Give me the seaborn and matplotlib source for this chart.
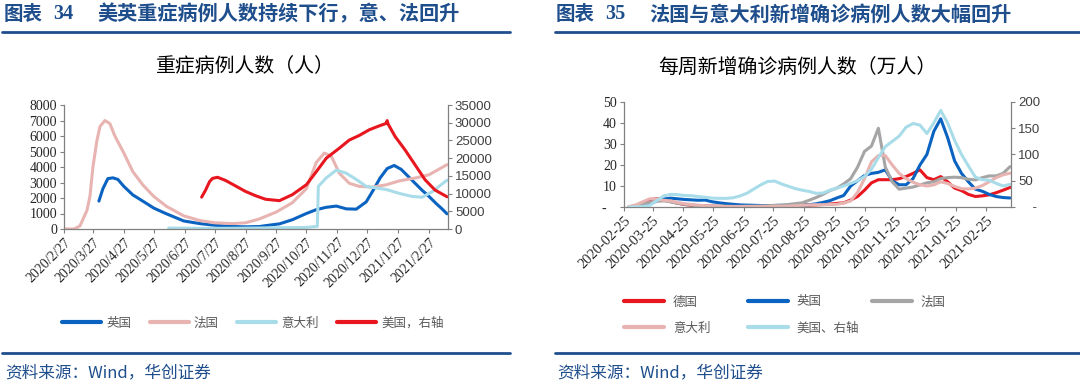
import pandas as pd
import seaborn as sns
import matplotlib.pyplot as plt
from matplotlib.lines import Line2D
from matplotlib.ticker import FuncFormatter

# ---------------- left chart: ICU patients (persons) ----------------
uk_dates = ['2020-04-02', '2020-04-06', '2020-04-11', '2020-04-16', '2020-04-21', '2020-04-27',
            '2020-05-06', '2020-05-16', '2020-05-27', '2020-06-08', '2020-06-26', '2020-07-12',
            '2020-07-27', '2020-08-14', '2020-08-27', '2020-09-10', '2020-09-20', '2020-09-30',
            '2020-10-13', '2020-10-27', '2020-11-06', '2020-11-16', '2020-11-26', '2020-12-06',
            '2020-12-16', '2020-12-26', '2021-01-02', '2021-01-09', '2021-01-16', '2021-01-23',
            '2021-01-30', '2021-02-06', '2021-02-13', '2021-02-20', '2021-02-27', '2021-03-06',
            '2021-03-12', '2021-03-17']
uk_icu = [1800, 2600, 3250, 3300, 3200, 2750,
          2200, 1800, 1350, 1000, 520, 350,
          240, 160, 140, 160, 250, 330,
          600, 1000, 1250, 1400, 1480, 1300,
          1280, 1750, 2500, 3300, 3900, 4100,
          3850, 3400, 2950, 2500, 2100, 1650,
          1300, 980]

fr_dates = ['2020-02-27', '2020-03-08', '2020-03-14', '2020-03-21', '2020-03-24', '2020-03-27',
            '2020-03-31', '2020-04-03', '2020-04-08', '2020-04-13', '2020-04-18', '2020-04-27',
            '2020-05-06', '2020-05-16', '2020-05-27', '2020-06-09', '2020-06-26', '2020-07-12',
            '2020-07-27', '2020-08-14', '2020-08-27', '2020-09-10', '2020-09-27', '2020-10-13',
            '2020-10-27', '2020-11-06', '2020-11-14', '2020-11-21', '2020-11-29', '2020-12-09',
            '2020-12-19', '2021-01-01', '2021-01-15', '2021-01-28', '2021-02-14', '2021-02-27',
            '2021-03-17']
fr_icu = [0, 0, 200, 1200, 2100, 4000,
          5700, 6600, 7000, 6800, 6000, 4900,
          3700, 2850, 2100, 1450, 850, 550,
          400, 350, 400, 650, 1100, 1700,
          2600, 4300, 4900, 4700, 3600, 2950,
          2750, 2700, 2850, 3100, 3300, 3500,
          4150]

it_dates = ['2020-06-11', '2020-07-15', '2020-08-20', '2020-09-25', '2020-10-27', '2020-11-07',
            '2020-11-08', '2020-11-16', '2020-11-26', '2020-12-06', '2020-12-16', '2020-12-26',
            '2021-01-05', '2021-01-15', '2021-01-28', '2021-02-10', '2021-02-20', '2021-03-02',
            '2021-03-17']
it_icu = [60, 40, 50, 80, 100, 170,
          2750, 3300, 3800, 3600, 3200, 2750,
          2650, 2550, 2300, 2100, 2050, 2400,
          3150]

us_dates = ['2020-07-14', '2020-07-18', '2020-07-22', '2020-07-25', '2020-07-30', '2020-08-07',
            '2020-08-18', '2020-08-27', '2020-09-06', '2020-09-16', '2020-09-30', '2020-10-13',
            '2020-10-27', '2020-11-06', '2020-11-16', '2020-11-29', '2020-12-09', '2020-12-19',
            '2020-12-29', '2021-01-08', '2021-01-15', '2021-01-16', '2021-01-17', '2021-01-24',
            '2021-02-03', '2021-02-13', '2021-02-23', '2021-03-05', '2021-03-17']
us_icu = [9000, 11000, 13400, 14300, 14600, 13700,
          12000, 10600, 9400, 8400, 8000, 9700,
          12500, 16200, 20000, 22800, 25100, 26400,
          28000, 29100, 29800, 30600, 29600, 26100,
          22300, 18100, 13900, 11000, 9100]

icu_ticks = ['2020-02-27', '2020-03-27', '2020-04-27', '2020-05-27', '2020-06-27', '2020-07-27',
             '2020-08-27', '2020-09-27', '2020-10-27', '2020-11-27', '2020-12-27', '2021-01-27',
             '2021-02-27']

# ---------------- right chart: weekly new cases (10k persons) ----------------
week_dates = pd.date_range('2020-03-01', '2021-03-21', freq='7D')
de_new = [0.1, 0.6, 2.0, 3.5, 3.9, 3.6, 2.6, 1.8, 1.2, 0.8, 0.6, 0.5, 0.4, 0.3, 0.3, 0.3,
          0.4, 0.4, 0.3, 0.3, 0.4, 0.5, 0.6, 0.7, 0.9, 1.0, 0.9, 1.0, 1.2, 1.4, 1.7, 2.0,
          3.3, 5.0, 8.0, 11.5, 13.0, 13.0, 13.0, 13.5, 14.5, 16.0, 17.7, 14.0, 13.0, 14.5,
          12.0, 9.0, 7.8, 6.0, 5.0, 5.3, 5.8, 6.8, 8.0, 9.3]
uk_new = [0.0, 0.1, 0.6, 1.5, 2.8, 3.8, 4.2, 3.9, 3.6, 3.4, 3.2, 3.3, 2.5, 2.0, 1.6, 1.3,
          1.0, 0.9, 0.8, 0.7, 0.7, 0.7, 0.8, 0.8, 0.9, 1.0, 1.1, 1.5, 2.2, 3.0, 4.3, 5.5,
          10.0, 12.5, 15.0, 16.0, 16.5, 17.7, 12.5, 10.6, 10.6, 13.5, 20.0, 25.0, 36.0, 42.0,
          33.0, 22.0, 16.0, 12.0, 8.5, 7.5, 6.0, 5.0, 4.5, 4.3]
fr_new = [0.1, 0.4, 1.2, 2.2, 2.8, 2.9, 2.5, 1.8, 1.3, 0.9, 0.6, 0.5, 0.4, 0.4, 0.4, 0.3,
          0.3, 0.4, 0.4, 0.5, 0.6, 0.8, 0.9, 1.2, 1.6, 2.0, 3.2, 4.5, 6.0, 7.8, 9.0, 11.0,
          13.5, 19.0, 26.5, 29.0, 37.5, 19.0, 12.0, 8.5, 9.0, 9.5, 10.5, 11.5, 12.0, 13.5,
          14.0, 14.2, 14.0, 13.2, 12.9, 14.0, 14.8, 14.8, 16.0, 19.2]
it_new = [0.2, 1.0, 2.5, 3.9, 3.8, 3.2, 2.9, 2.2, 1.6, 1.2, 0.9, 0.6, 0.5, 0.4, 0.2, 0.2,
          0.2, 0.2, 0.2, 0.2, 0.2, 0.3, 0.3, 0.4, 0.6, 0.8, 1.0, 1.1, 1.1, 1.2, 1.3, 1.9,
          2.9, 7.0, 13.5, 21.5, 24.5, 24.5, 20.0, 16.0, 13.5, 11.8, 10.6, 10.0, 10.5, 12.0,
          11.2, 9.8, 8.7, 8.6, 9.0, 10.2, 12.0, 14.0, 15.3, 16.1]
us_new = [0.0, 0.1, 0.8, 3.0, 12.0, 21.0, 24.0, 23.5, 22.0, 21.5, 20.0, 18.5, 17.0, 16.5, 16.4, 17.5,
          21.0, 26.0, 34.0, 42.0, 48.5, 49.5, 44.0, 39.5, 35.0, 32.0, 29.7, 26.0, 26.5, 32.0, 36.0, 40.0,
          45.0, 50.0, 58.0, 72.0, 94.0, 115.0, 125.0, 135.0, 152.0, 159.0, 156.0, 140.0, 160.0, 184.0,
          160.0, 127.0, 100.0, 78.0, 57.0, 52.0, 51.0, 45.0, 40.0, 43.0]

case_ticks = ['2020-02-25', '2020-03-25', '2020-04-25', '2020-05-25', '2020-06-25', '2020-07-25',
              '2020-08-25', '2020-09-25', '2020-10-25', '2020-11-25', '2020-12-25', '2021-01-25',
              '2021-02-25']

RED = '#E8161E'
BLUE = '#0A63C0'
PINK = '#E8B4B2'
LBLUE = '#A9DCE9'
GREY = '#A5A5A5'
NAVY = '#1F4E8C'
SPINE = '#808080'

sns.set_theme(style='ticks')
plt.rcParams['font.family'] = ['Noto Sans CJK SC', 'DejaVu Sans']

W, H = 1080, 386
fig = plt.figure(figsize=(W / 100, H / 100), dpi=100)


def box(x0, x1, ytop, ybot):
    return [x0 / W, 1 - ybot / H, (x1 - x0) / W, (ybot - ytop) / H]


def style_axes(ax, axr):
    for a in (ax, axr):
        a.spines['top'].set_visible(False)
        for s in a.spines.values():
            s.set_color(SPINE)
            s.set_linewidth(0.9)
        a.tick_params(direction='out', length=3, width=0.8, color=SPINE, pad=2)
        a.set_xlabel('')
        a.set_ylabel('')
    axr.spines['left'].set_visible(False)
    axr.spines['bottom'].set_visible(False)
    ax.spines['right'].set_visible(False)


def header(x, num, text, rule_x0, rule_x1):
    fig.text(x / W, 1 - 14 / H, '图表', color=NAVY, fontsize=14, fontweight='bold', va='center')
    fig.text((x + 49) / W, 1 - 14 / H, num, color=NAVY, fontsize=14.5, fontweight='bold',
             va='center', family='Liberation Serif')
    fig.text((x + 93) / W, 1 - 14 / H, text, color=NAVY, fontsize=14.5, fontweight='bold', va='center')
    fig.add_artist(Line2D([rule_x0 / W, rule_x1 / W], [1 - 32 / H] * 2, color=NAVY, lw=2))
    fig.add_artist(Line2D([rule_x0 / W, rule_x1 / W], [1 - 353 / H] * 2, color=NAVY, lw=2))
    fig.text((x + 1) / W, 1 - 373 / H, '资料来源：Wind，华创证券', color=NAVY, fontsize=12,
             va='center', style='italic')


# ---------------- left chart ----------------
header(4, '34', '美英重症病例人数持续下行，意、法回升', 2, 510)
fig.text(245 / W, 1 - 67 / H, '重症病例人数（人）', fontsize=14.3, ha='center', va='center', color='black')

ax1 = fig.add_axes(box(64, 448, 105, 229))
ax1r = ax1.twinx()
sns.lineplot(x=pd.to_datetime(uk_dates), y=uk_icu, ax=ax1, color=BLUE, lw=2.2)
sns.lineplot(x=pd.to_datetime(fr_dates), y=fr_icu, ax=ax1, color=PINK, lw=2.2)
sns.lineplot(x=pd.to_datetime(it_dates), y=it_icu, ax=ax1, color=LBLUE, lw=2.2)
sns.lineplot(x=pd.to_datetime(us_dates), y=us_icu, ax=ax1r, color=RED, lw=2.2)

ax1.set_xlim(pd.Timestamp('2020-02-27'), pd.Timestamp('2021-03-18'))
ax1.set_ylim(0, 8000)
ax1.set_yticks(range(0, 8001, 1000))
ax1r.set_ylim(0, 35000)
ax1r.set_yticks(range(0, 35001, 5000))
ticks1 = pd.to_datetime(icu_ticks)
ax1.set_xticks(ticks1)
ax1.set_xticklabels([f'{d.year}/{d.month}/{d.day}' for d in ticks1])
style_axes(ax1, ax1r)
plt.setp(ax1.get_xticklabels(), rotation=45, ha='right', rotation_mode='anchor',
         family='Liberation Serif', fontsize=10, color='#262626')
plt.setp(ax1.get_yticklabels(), family='Liberation Serif', fontsize=10, color='#262626')
plt.setp(ax1r.get_yticklabels(), family='Liberation Sans', fontsize=9.5, color='#404040')

h1 = [Line2D([], [], color=c, lw=3) for c in (BLUE, PINK, LBLUE, RED)]
fig.legend(h1, ['英国', '法国', '意大利', '美国，右轴'], loc='center left', bbox_to_anchor=(51 / W, 1 - 323 / H),
           ncol=4, frameon=False, fontsize=9, handlelength=3.1, handletextpad=0.4,
           columnspacing=1.5, labelcolor='#595959')

# ---------------- right chart ----------------
header(556, '35', '法国与意大利新增确诊病例人数大幅回升', 555, 1080)
fig.text(797 / W, 1 - 67 / H, '每周新增确诊病例人数（万人）', fontsize=14.3, ha='center', va='center', color='black')

ax2 = fig.add_axes(box(624, 1011, 102, 207))
ax2r = ax2.twinx()
sns.lineplot(x=week_dates, y=de_new, ax=ax2, color=RED, lw=2.2)
sns.lineplot(x=week_dates, y=uk_new, ax=ax2, color=BLUE, lw=2.2)
sns.lineplot(x=week_dates, y=fr_new, ax=ax2, color=GREY, lw=2.2)
sns.lineplot(x=week_dates, y=it_new, ax=ax2, color=PINK, lw=2.2)
sns.lineplot(x=week_dates, y=us_new, ax=ax2r, color=LBLUE, lw=2.2)

ax2.set_xlim(pd.Timestamp('2020-02-25'), pd.Timestamp('2021-03-22'))
ax2.set_ylim(0, 50)
ax2.set_yticks(range(0, 51, 10))
ax2.yaxis.set_major_formatter(FuncFormatter(lambda v, p: '-   ' if v == 0 else f'{v:.0f}'))
ax2r.set_ylim(0, 200)
ax2r.set_yticks(range(0, 201, 50))
ax2r.yaxis.set_major_formatter(FuncFormatter(lambda v, p: '    -' if v == 0 else f'{v:.0f}'))
ticks2 = pd.to_datetime(case_ticks)
ax2.set_xticks(ticks2)
ax2.set_xticklabels([d.strftime('%Y-%m-%d') for d in ticks2])
style_axes(ax2, ax2r)
plt.setp(ax2.get_xticklabels(), rotation=45, ha='right', rotation_mode='anchor',
         family='Liberation Serif', fontsize=10.5, color='#262626')
plt.setp(ax2.get_yticklabels(), family='Liberation Serif', fontsize=10, color='#262626')
plt.setp(ax2r.get_yticklabels(), family='Liberation Sans', fontsize=9.5, color='#404040')

# legend drawn as two rows so the columns line up like the original
row1 = [Line2D([], [], color=c, lw=3) for c in (RED, BLUE, GREY)]
row2 = [Line2D([], [], color=c, lw=3) for c in (PINK, LBLUE)]
fig.legend(row1, ['德国', '英国', '法国'], loc='center left', bbox_to_anchor=(613 / W, 1 - 302 / H),
           ncol=3, frameon=False, fontsize=9, handlelength=3.2, handletextpad=0.7,
           columnspacing=4.0, labelcolor='#595959')
fig.legend(row2, ['意大利', '美国、右轴'], loc='center left', bbox_to_anchor=(613 / W, 1 - 328 / H),
           ncol=2, frameon=False, fontsize=9, handlelength=3.2, handletextpad=0.7,
           columnspacing=3.0, labelcolor='#595959')

fig.savefig('out.png', dpi=100, facecolor='white')
